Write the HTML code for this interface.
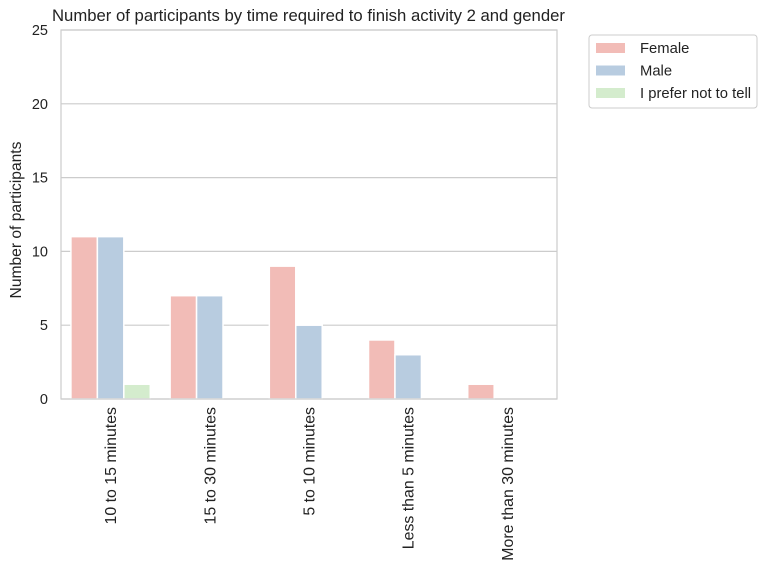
<!DOCTYPE html>
<html><head><meta charset="utf-8"><style>
body{margin:0;background:#fff;}
svg{font-family:"Liberation Sans",Arial,sans-serif;}
</style></head><body>
<svg id="chart" width="768" height="570">
<text x="52" y="21" font-size="16.7" fill="#222">Number of participants by time required to finish activity 2 and gender</text>
<g id="grid"></g>
<g id="bars"></g>
<rect x="61" y="30" width="496" height="369" fill="none" stroke="#ccc" stroke-width="1.2"/>
<g id="yticks"></g>
<g id="xticks"></g>
<text transform="translate(21,220) rotate(-90)" text-anchor="middle" font-size="15.6" fill="#222">Number of participants</text>
<g id="legend">
<rect x="589" y="35" width="168" height="73" rx="3" fill="#fff" stroke="#ccc"/>
</g>
</svg>
<script>
const categories=["10 to 15 minutes","15 to 30 minutes","5 to 10 minutes","Less than 5 minutes","More than 30 minutes"];
const seriesNames=["Female","Male","I prefer not to tell"];
const female=[11,7,9,4,1];
const male=[11,7,5,3,0];
const preferNot=[1,0,0,0,0];
const yTicks=[0,5,10,15,20,25];
const colors=["#f2bcb7","#b8cce0","#d4eccd"];
const series=[female,male,preferNot];
const NS="http://www.w3.org/2000/svg";
const L=61,R=557,T=30,B=399,yMax=25;
const y=v=>B-(v/yMax)*(B-T);
const band=(R-L)/categories.length;
const xc=i=>L+band*(i+0.5);
const bw=band*0.8/3;
function mk(tag,attrs,parent){const e=document.createElementNS(NS,tag);for(const k in attrs)e.setAttribute(k,attrs[k]);document.getElementById(parent).appendChild(e);return e;}
yTicks.forEach(t=>{
 const g=mk("line",{x1:L,x2:R,y1:y(t),y2:y(t),stroke:"#ccc","stroke-width":1.2},"grid");
 
 
 const tx=mk("text",{x:L-13,y:y(t)+5,"text-anchor":"end","font-size":"14.5",fill:"#222"},"yticks");
 tx.textContent=t;
 
 
});
series.forEach((s,si)=>{
 s.forEach((v,i)=>{
  const x0=xc(i)-band*0.4+si*bw;
  const r=mk("rect",{x:x0,y:y(v),width:bw,height:B-y(v),fill:colors[si],stroke:"#fff","stroke-width":1.5},"bars");
  
  
 });
});
categories.forEach((c,i)=>{
 const tx=mk("text",{transform:`translate(${xc(i)+5.5},${B+8}) rotate(-90)`,"text-anchor":"end","font-size":"15.9",fill:"#222"},"xticks");
 tx.textContent=c;
 
 
});
seriesNames.forEach((n,i)=>{
 const yy=48+i*22.5;
 const p=mk("rect",{x:596,y:yy-5,width:29,height:10,fill:colors[i]},"legend");
 
 
 const t=mk("text",{x:640,y:yy+5,"font-size":"14.8",fill:"#222"},"legend");
 t.textContent=n;
 
 
});
</script>
</body></html>
